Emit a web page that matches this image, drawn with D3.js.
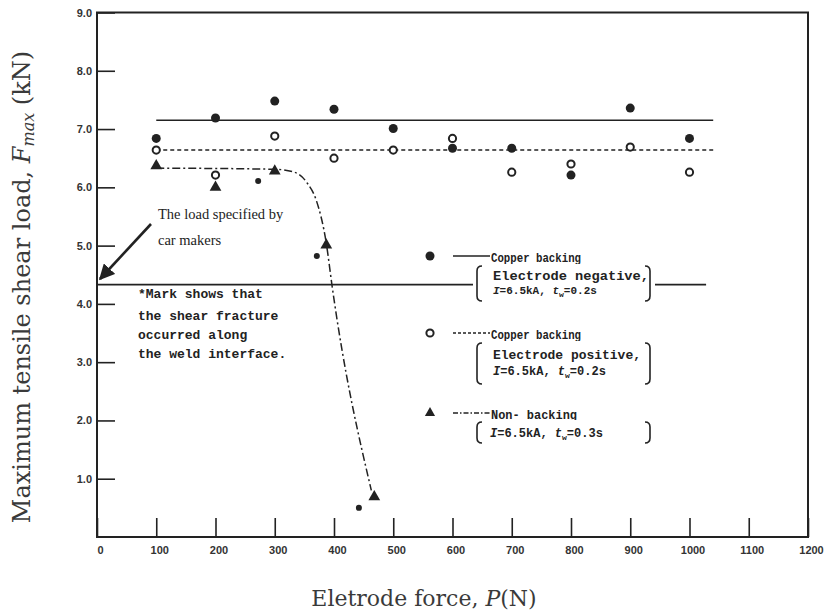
<!DOCTYPE html>
<html><head><meta charset="utf-8">
<script src="https://cdn.jsdelivr.net/npm/d3@7"></script>
<style>
body{margin:0;background:#fff;}
svg{display:block;}
.mono{font-family:"Liberation Mono","DejaVu Sans Mono",monospace;font-weight:bold;fill:#222;}
.tick text{font-family:"Liberation Sans",Arial,sans-serif;font-weight:bold;font-size:11px;fill:#333;}
</style></head>
<body>
<svg id="chart" width="825" height="616"></svg>
<script>
// ---------- data ----------
const forces = [100,200,300,400,500,600,700,800,900,1000];
const negValues = [6.84,7.19,7.48,7.34,7.01,6.67,6.67,6.21,7.36,6.84];   // Copper backing, electrode negative
const posValues = [6.64,6.21,6.88,6.50,6.64,6.84,6.26,6.40,6.69,6.26];   // Copper backing, electrode positive
const nonForces = [100,200,300,387,468];                                 // Non-backing
const nonValues = [6.37,6.00,6.28,5.01,0.69];
const interfaceForces = [272,371,442];                                   // * shear fracture along weld interface
const interfaceValues = [6.11,4.82,0.50];
const negFitX = [100,1040], negFitY = [7.15,7.15];
const posFitX = [100,1040], posFitY = [6.64,6.64];
const nonCurveX = [100,300,330,355,370,387,397,463];
const nonCurveY = [6.33,6.31,6.27,6.07,5.78,5.04,4.29,0.80];
const specX = [0,1028], specY = [4.33,4.33];                              // load specified by car makers
const xTicks = [0,100,200,300,400,500,600,700,800,900,1000,1100,1200];
const yTicks = [1,2,3,4,5,6,7,8,9];
const noteLines = ["*Mark shows that","the shear fracture","occurred along","the weld interface."];
const specLines = ["The load specified by","car makers"];
const legendLabels = ["Copper backing","Copper backing","Non- backing"];
const legendDetails = [["Electrode negative,"],["Electrode positive,"],[]];
const legendCond = [["6.5kA","0.2s"],["6.5kA","0.2s"],["6.5kA","0.3s"]];

// ---------- layout ----------
const svg = d3.select("#chart");
const x = d3.scaleLinear().domain([0,1200]).range([97,808]);
const y = d3.scaleLinear().domain([0,9]).range([537,12.5]);
const ink = "#222";

// axes (inner ticks)
const xAxis = d3.axisBottom(x).tickValues(xTicks).tickSizeInner(-19).tickSizeOuter(0).tickPadding(9).tickFormat(d3.format("d"));
const gx = svg.append("g").attr("transform","translate(0,537)").call(xAxis);
gx.select(".domain").remove();
gx.selectAll(".tick line").attr("stroke",ink).attr("stroke-width",1.6);
gx.selectAll(".tick text").attr("dx",3);

const yAxis = d3.axisLeft(y).tickValues(yTicks).tickSizeInner(-18).tickSizeOuter(0).tickPadding(5).tickFormat(d3.format(".1f"));
const gy = svg.append("g").attr("transform","translate(97,0)").call(yAxis);
gy.select(".domain").remove();
gy.selectAll(".tick line").attr("stroke",ink).attr("stroke-width",1.6);

// frame
svg.append("rect").attr("x",x(0)).attr("y",y(9)).attr("width",x(1200)-x(0)).attr("height",y(0)-y(9))
  .attr("fill","none").attr("stroke",ink).attr("stroke-width",2);

// axis titles
svg.append("text").attr("transform","translate(30,287) rotate(-90)").attr("text-anchor","middle")
  .style("font-family","'DejaVu Serif',serif").style("font-size","24px").style("fill","#3a3a3a")
  .call(t=>{
    t.append("tspan").text("Maximum tensile shear load, ");
    t.append("tspan").style("font-style","italic").text("F");
    t.append("tspan").style("font-style","italic").style("font-size","16px").attr("dy",4).text("max");
    t.append("tspan").attr("dy",-4).text(" (kN)");
  });
svg.append("text").attr("x",424).attr("y",606).attr("text-anchor","middle")
  .style("font-family","'DejaVu Serif',serif").style("font-size","22px").style("fill","#3a3a3a")
  .call(t=>{
    t.append("tspan").text("Eletrode force, ");
    t.append("tspan").style("font-style","italic").text("P");
    t.append("tspan").text("(N)");
  });

// lines
const line = d3.line().x(d=>x(d[0])).y(d=>y(d[1]));
svg.append("path").attr("d",line(d3.zip(specX,specY))).attr("fill","none").attr("stroke",ink).attr("stroke-width",1.8);
svg.append("path").attr("d",line(d3.zip(negFitX,negFitY))).attr("fill","none").attr("stroke",ink).attr("stroke-width",1.6);
svg.append("path").attr("d",line(d3.zip(posFitX,posFitY))).attr("fill","none").attr("stroke",ink).attr("stroke-width",1.6).attr("stroke-dasharray","4,3");
svg.append("path").attr("d",line.curve(d3.curveMonotoneX)(d3.zip(nonCurveX,nonCurveY))).attr("fill","none").attr("stroke",ink).attr("stroke-width",1.5).attr("stroke-dasharray","8,3,2,3");

// markers
svg.append("g").selectAll("circle").data(d3.zip(forces,posValues)).join("circle")
  .attr("cx",d=>x(d[0])).attr("cy",d=>y(d[1])).attr("r",3.6).attr("fill","#fff").attr("stroke",ink).attr("stroke-width",2);
svg.append("g").selectAll("circle").data(d3.zip(forces,negValues)).join("circle")
  .attr("cx",d=>x(d[0])).attr("cy",d=>y(d[1])).attr("r",4.5).attr("fill",ink);
svg.append("g").selectAll("path").data(d3.zip(nonForces,nonValues)).join("path")
  .attr("transform",d=>`translate(${x(d[0])},${y(d[1])})`).attr("d",d3.symbol(d3.symbolTriangle,60)).attr("fill",ink);
svg.append("g").selectAll("circle").data(d3.zip(interfaceForces,interfaceValues)).join("circle")
  .attr("cx",d=>x(d[0])).attr("cy",d=>y(d[1])).attr("r",3).attr("fill",ink);

// annotation: load specified by car makers
svg.append("defs").append("marker").attr("id","ah").attr("viewBox","0 0 10 10").attr("refX",9).attr("refY",5)
  .attr("markerWidth",6).attr("markerHeight",6).attr("orient","auto")
  .append("path").attr("d","M0,0 L10,5 L0,10 Z").attr("fill",ink);
svg.append("line").attr("x1",151).attr("y1",224).attr("x2",100).attr("y2",279)
  .attr("stroke",ink).attr("stroke-width",2.6).attr("marker-end","url(#ah)");
svg.append("g").selectAll("text").data(specLines).join("text")
  .attr("x",158).attr("y",(d,i)=>219+i*26).text(d=>d)
  .style("font-family","'Liberation Serif','Times New Roman',serif").style("font-size","14.5px").style("fill",ink);

// note
svg.append("g").selectAll("text").data(noteLines).join("text").attr("class","mono")
  .attr("x",138).attr("y",(d,i)=>[298,320,339,358][i]).style("font-size","13px").text(d=>d);

// legend
const legY = [256,333,413];
const lg = svg.append("g");
const bracket = (g,x0,y0,y1,dir)=>{
  g.append("path").attr("d",`M${x0+dir*5},${y0} Q${x0},${y0} ${x0},${y0+5} L${x0},${y1-5} Q${x0},${y1} ${x0+dir*5},${y1}`)
   .attr("fill","none").attr("stroke",ink).attr("stroke-width",1.6);
};
const boxes = [[266,301],[343,384],[422,443]];
legendLabels.forEach((lab,i)=>{
  const g = lg.append("g");
  const cy = legY[i];
  if(i===0) g.append("circle").attr("cx",430).attr("cy",cy).attr("r",4.5).attr("fill",ink);
  if(i===1) g.append("circle").attr("cx",430).attr("cy",cy).attr("r",3.6).attr("fill","#fff").attr("stroke",ink).attr("stroke-width",2);
  if(i===2) g.append("path").attr("transform",`translate(430,${cy})`).attr("d",d3.symbol(d3.symbolTriangle,45)).attr("fill",ink);
  g.append("line").attr("x1",453).attr("x2",490).attr("y1",cy).attr("y2",cy).attr("stroke",ink).attr("stroke-width",1.5)
    .attr("stroke-dasharray",[null,"3,2","5,2,1.5,2"][i]);
  g.append("text").attr("class","mono").attr("x",491).attr("y",cy+6).style("font-size","12.5px")
    .attr("textLength",[90,90,86][i]).attr("lengthAdjust","spacingAndGlyphs").text(lab);
  const [b0,b1] = boxes[i];
  g.append("rect").attr("x",473).attr("y",b0-2).attr("width",182).attr("height",b1-b0+4).attr("fill","#fff");
  bracket(g,477,b0,b1,1);
  bracket(g,650,b0,b1,-1);
  let ty = b0 + (i===0?14:(i===2?15:16));
  legendDetails[i].forEach(t=>{
    g.append("text").attr("class","mono").attr("x",493).attr("y",ty).style("font-size",i===0?"12px":"13px")
      .attr("textLength",[156,148][i]).attr("lengthAdjust","spacingAndGlyphs").text(t);
    ty += i===0?14:16;
  });
  const c = legendCond[i];
  const ct = g.append("text").attr("class","mono").attr("x",i===2?490:493).attr("y",ty).style("font-size",i===0?"11px":"12px");
  ct.append("tspan").style("font-style","italic").text("I");
  ct.append("tspan").text("=" + c[0] + ", ");
  ct.append("tspan").style("font-style","italic").text("t");
  ct.append("tspan").attr("dy",3).style("font-size","8px").text("w");
  ct.append("tspan").attr("dy",-3).text("=" + c[1]);
});
</script>
</body></html>
